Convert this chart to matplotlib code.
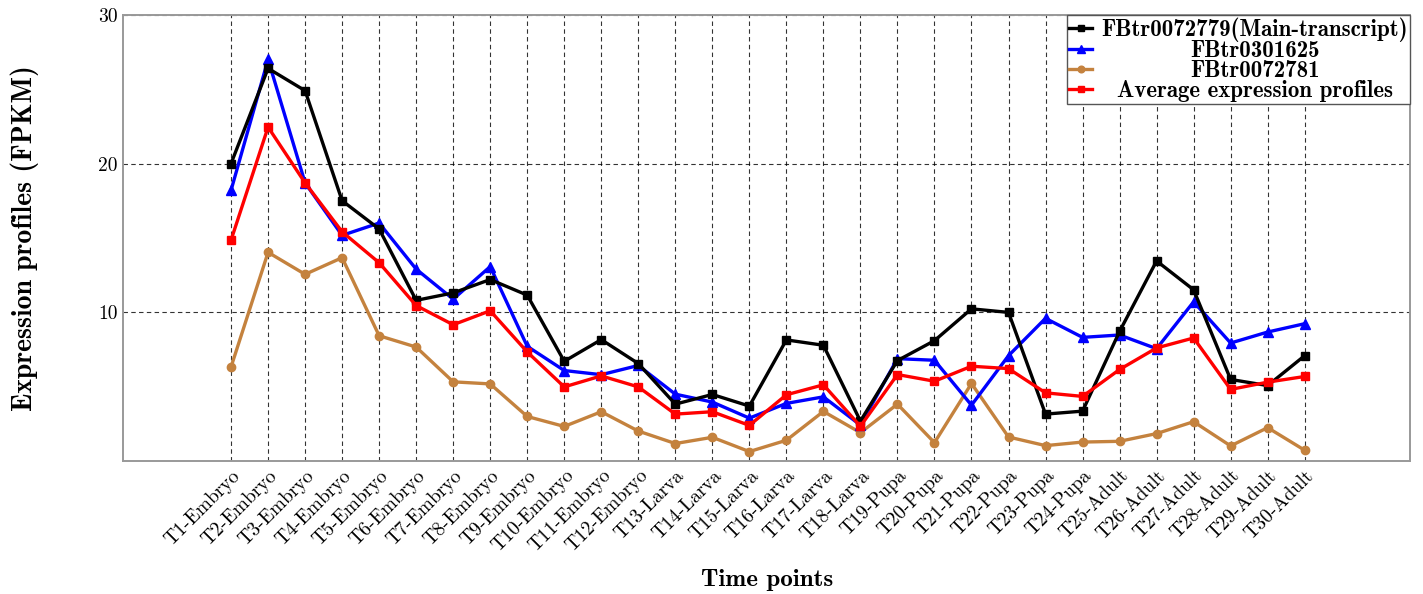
import matplotlib
matplotlib.use("Agg")
import matplotlib.pyplot as plt
import numpy as np

time_points = ["T1-Embryo", "T2-Embryo", "T3-Embryo", "T4-Embryo", "T5-Embryo", "T6-Embryo",
               "T7-Embryo", "T8-Embryo", "T9-Embryo", "T10-Embryo", "T11-Embryo", "T12-Embryo",
               "T13-Larva", "T14-Larva", "T15-Larva", "T16-Larva", "T17-Larva", "T18-Larva",
               "T19-Pupa", "T20-Pupa", "T21-Pupa", "T22-Pupa", "T23-Pupa", "T24-Pupa",
               "T25-Adult", "T26-Adult", "T27-Adult", "T28-Adult", "T29-Adult", "T30-Adult"]

main_transcript = [20.0, 26.4, 24.9, 17.5, 15.6, 10.8, 11.3, 12.2, 11.15, 6.7,
                   8.16, 6.55, 3.82, 4.47, 3.69, 8.14, 7.78, 2.68, 6.75, 8.09,
                   10.23, 9.99, 3.15, 3.35, 8.71, 13.45, 11.51, 5.48, 5.07, 7.08]
fbtr0301625 = [18.2, 27.0, 18.7, 15.17, 16.0, 12.9, 10.88, 13.07, 7.71, 6.08,
               5.8, 6.42, 4.49, 3.96, 2.88, 3.87, 4.31, 2.41, 6.88, 6.77,
               3.75, 7.08, 9.59, 8.31, 8.47, 7.55, 10.70, 7.93, 8.67, 9.23]
fbtr0072781 = [6.32, 14.03, 12.55, 13.67, 8.42, 7.66, 5.32, 5.18, 2.99, 2.32,
               3.31, 2.01, 1.17, 1.59, 0.63, 1.39, 3.33, 1.9, 3.82, 1.23,
               5.21, 1.61, 1.03, 1.27, 1.32, 1.84, 2.64, 1.01, 2.24, 0.72]
average_profile = [14.85, 22.45, 18.7, 15.41, 13.33, 10.45, 9.16, 10.1, 7.33, 4.98,
                   5.72, 4.98, 3.15, 3.31, 2.39, 4.45, 5.12, 2.33, 5.81, 5.36,
                   6.37, 6.21, 4.58, 4.34, 6.15, 7.60, 8.27, 4.81, 5.30, 5.68]

series_labels = ["FBtr0072779(Main-transcript)", "FBtr0301625", "FBtr0072781",
                 "Average expression profiles"]
y_ticks = [10, 20, 30]

fig = plt.figure(figsize=(14.23, 5.94), dpi=100)
ax = fig.add_axes([0.0864, 0.224, 0.9046, 0.751])

x = np.arange(1, len(time_points) + 1)
lw = 2.4
ms = 6
ax.plot(x, main_transcript, color="black", marker="s", lw=lw, ms=ms, label=series_labels[0], zorder=5)
ax.plot(x, fbtr0301625, color="#0000ff", marker="^", lw=lw, ms=ms + 1, label=series_labels[1], zorder=4)
ax.plot(x, fbtr0072781, color="#c4823e", marker="o", lw=lw, ms=ms, label=series_labels[2], zorder=3)
ax.plot(x, average_profile, color="#ff0000", marker="s", lw=lw, ms=ms, label=series_labels[3], zorder=6)

ax.set_xlim(-1.92, 32.85)
ax.set_ylim(0, 30)
ax.set_yticks(y_ticks)
ax.set_xticks(x)
ax.set_xticklabels(time_points, rotation=45, ha="right", rotation_mode="anchor",
                   family="cmr10", fontsize=14)
for t in ax.get_yticklabels():
    t.set_family("cmr10")
    t.set_fontsize(14)
ax.tick_params(axis="both", length=0, pad=4)
ax.tick_params(axis="x", pad=4)

ax.grid(True, color="black", linestyle=(0, (4, 3)), linewidth=0.8, alpha=0.8)
ax.set_axisbelow(True)
for s in ax.spines.values():
    s.set_color("#999999")
    s.set_linewidth(1.4)

ax.set_ylabel("Expression profiles (FPKM)", family="cmb10", fontsize=20, labelpad=42)
fig.text(0.5388, 1 - 580 / 594, "Time points", family="cmb10", fontsize=18,
         ha="center", va="center")

leg = ax.legend(loc="upper right", borderaxespad=0.0, fancybox=False, framealpha=1,
                edgecolor="#555555", prop={"family": "cmb10", "size": 16.5},
                handlelength=1.0, handletextpad=0.4, borderpad=0.1, labelspacing=-0.08,
                markerscale=0.8)
leg.get_frame().set_linewidth(1.0)

fig.canvas.draw()
renderer = fig.canvas.get_renderer()
widths = [t.get_window_extent(renderer).width for t in leg.get_texts()]
maxw = max(widths)
for t, w in zip(leg.get_texts(), widths):
    t.set_position(((maxw - w) / 2.0, 0))

fig.savefig("out.png", dpi=100)
